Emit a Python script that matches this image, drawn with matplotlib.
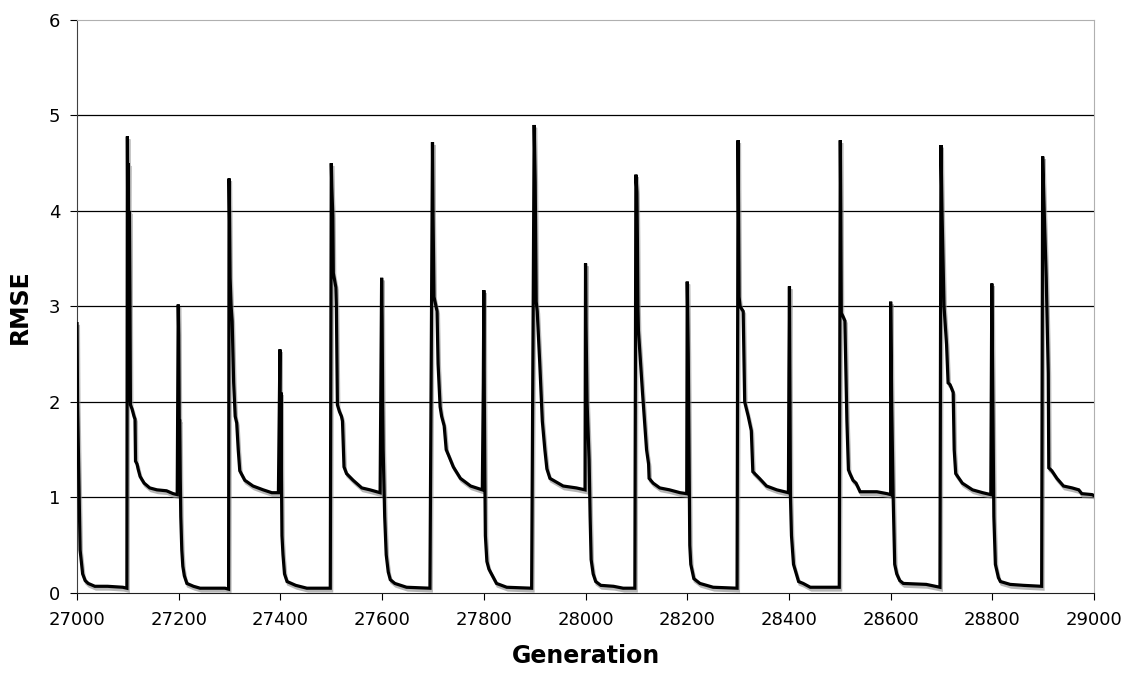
"""
RMSE over generations (27000-29000)
"""

import matplotlib
matplotlib.use('Agg')
import matplotlib.pyplot as plt
import matplotlib.patheffects as pe

# ============================================================================
# DATA
# ============================================================================
generation = [
    27000, 27001, 27003, 27005, 27006, 27008, 27011, 27016, 27022, 27035, 27060, 27090, 27098,
    27099, 27100, 27101, 27102, 27103, 27104, 27105, 27108, 27112, 27114, 27115, 27118, 27120,
    27124, 27132, 27143, 27157, 27176, 27189, 27197,
    27199, 27200, 27201, 27202, 27203, 27204, 27206, 27208, 27211, 27216, 27229, 27242, 27270,
    27291, 27298,
    27299, 27300, 27301, 27303, 27305, 27308, 27311, 27314, 27317, 27320, 27323, 27330, 27346,
    27366, 27383, 27396,
    27399, 27400, 27401, 27402, 27403, 27405, 27408, 27413, 27430, 27452, 27498,
    27500, 27501, 27503, 27504, 27509, 27510, 27512, 27516, 27520, 27522, 27525, 27530, 27543,
    27560, 27576, 27596,
    27599, 27600, 27601, 27602, 27605, 27608, 27612, 27616, 27625, 27648, 27694,
    27699, 27700, 27702, 27704, 27708, 27710, 27714, 27717, 27722, 27726, 27730, 27740, 27754,
    27774, 27797,
    27799, 27800, 27801, 27802, 27803, 27806, 27810, 27815, 27825, 27845, 27894,
    27899, 27901, 27903, 27905, 27910, 27915, 27920, 27924, 27930, 27956, 27982, 27999,
    28000, 28001, 28003, 28007, 28009, 28011, 28015, 28020, 28030, 28055, 28074, 28097,
    28099, 28101, 28102, 28103, 28104, 28112, 28120, 28124, 28125, 28133, 28146, 28165, 28186,
    28199,
    28200, 28202, 28204, 28205, 28207, 28213, 28225, 28251, 28298,
    28300, 28301, 28302, 28304, 28310, 28313, 28320, 28326, 28329, 28342, 28356, 28376, 28399,
    28400, 28401, 28403, 28405, 28409, 28419, 28428, 28442, 28499,
    28501, 28502, 28503, 28506, 28510, 28514, 28517, 28520, 28526, 28532, 28540, 28573, 28593,
    28600,
    28600, 28602, 28605, 28608, 28612, 28618, 28625, 28670, 28697,
    28699, 28701, 28705, 28710, 28713, 28717, 28723, 28725, 28728, 28741, 28761, 28781, 28797,
    28799, 28801, 28803, 28806, 28812, 28816, 28835, 28861, 28897,
    28899, 28902, 28906, 28910, 28911, 28917, 28927, 28940, 28957, 28970, 28976, 28996, 29000,
]

rmse = [
    2.82, 2.0, 1.4, 0.8, 0.45, 0.35, 0.2, 0.13, 0.1, 0.07, 0.07, 0.06, 0.05,
    4.78, 3.5, 4.5, 2.0, 4.0, 3.15, 1.97, 1.93, 1.85, 1.82, 1.38, 1.35, 1.3,
    1.22, 1.15, 1.1, 1.08, 1.07, 1.04, 1.03,
    3.02, 2.7, 1.8, 1.8, 1.2, 0.8, 0.45, 0.28, 0.18, 0.1, 0.07, 0.05, 0.05,
    0.05, 0.04,
    4.34, 3.9, 3.3, 3.0, 2.85, 2.2, 1.85, 1.78, 1.5, 1.28, 1.25, 1.18, 1.12,
    1.08, 1.05, 1.05,
    2.55, 1.1, 2.1, 1.2, 0.6, 0.4, 0.2, 0.12, 0.08, 0.05, 0.05,
    4.5, 4.25, 3.95, 3.35, 3.2, 3.0, 1.97, 1.9, 1.85, 1.8, 1.32, 1.25, 1.18,
    1.1, 1.08, 1.05,
    3.3, 2.85, 2.0, 1.5, 0.8, 0.4, 0.22, 0.14, 0.1, 0.06, 0.05,
    4.72, 4.0, 3.1, 3.05, 2.95, 2.4, 1.95, 1.85, 1.75, 1.5, 1.45, 1.32, 1.2,
    1.12, 1.08,
    2.2, 3.17, 2.0, 1.2, 0.6, 0.33, 0.25, 0.2, 0.1, 0.06, 0.05,
    4.9, 4.3, 3.05, 2.95, 2.4, 1.8, 1.5, 1.3, 1.2, 1.12, 1.1, 1.08,
    3.45, 2.8, 2.0, 1.4, 0.8, 0.35, 0.2, 0.12, 0.08, 0.07, 0.05, 0.05,
    4.38, 4.2, 3.7, 3.0, 2.75, 2.1, 1.5, 1.35, 1.2, 1.15, 1.1, 1.08, 1.05,
    1.04,
    3.26, 2.5, 1.1, 0.5, 0.3, 0.15, 0.1, 0.06, 0.05,
    4.74, 3.9, 3.1, 3.0, 2.95, 2.0, 1.85, 1.7, 1.27, 1.2, 1.12, 1.08, 1.05,
    2.3, 3.21, 1.0, 0.6, 0.3, 0.12, 0.1, 0.06, 0.06,
    4.74, 4.0, 2.93, 2.9, 2.85, 1.8, 1.29, 1.25, 1.18, 1.15, 1.06, 1.06, 1.04,
    1.03,
    3.05, 2.0, 1.0, 0.3, 0.2, 0.13, 0.1, 0.09, 0.06,
    4.69, 4.0, 3.0, 2.6, 2.2, 2.18, 2.1, 1.5, 1.25, 1.15, 1.08, 1.05, 1.03,
    3.24, 2.0, 0.8, 0.3, 0.16, 0.12, 0.09, 0.08, 0.07,
    4.57, 4.0, 3.3, 2.3, 1.31, 1.28, 1.2, 1.12, 1.1, 1.08, 1.04, 1.03, 1.02,
]

x_ticks = list(range(27000, 29001, 200))
y_ticks = [0, 1, 2, 3, 4, 5, 6]

# ============================================================================
# PLOT
# ============================================================================
fig = plt.figure(figsize=(11.33, 6.75), dpi=100)
ax = fig.add_axes([0.068, 0.1215, 0.8976, 0.849])

ax.plot(generation, rmse, color='black', linewidth=2.3, solid_joinstyle='miter',
        path_effects=[pe.SimpleLineShadow(offset=(1, -2), shadow_color='#888888', alpha=0.6),
                      pe.Normal()], zorder=3)

ax.set_xlim(27000, 29000)
ax.set_ylim(0, 6)
ax.set_xticks(x_ticks)
ax.set_yticks(y_ticks)

# horizontal gridlines (top one is light like the frame)
for v in y_ticks[1:-1]:
    ax.axhline(v, color='black', linewidth=0.9, zorder=1)

for side in ['top', 'right']:
    ax.spines[side].set_color('#b0b0b0')
    ax.spines[side].set_linewidth(0.8)
ax.spines['left'].set_color('#404040')
ax.spines['bottom'].set_color('#202020')

ax.tick_params(axis='both', direction='out', length=5, width=0.8, labelsize=13)
ax.tick_params(axis='x', pad=8)
ax.tick_params(axis='y', pad=7)

ax.set_xlabel('Generation', fontsize=17, fontweight='bold', labelpad=11)
ax.set_ylabel('RMSE', fontsize=17, fontweight='bold', labelpad=12)

plt.savefig('out.png', dpi=100)
print("Saved: out.png")
